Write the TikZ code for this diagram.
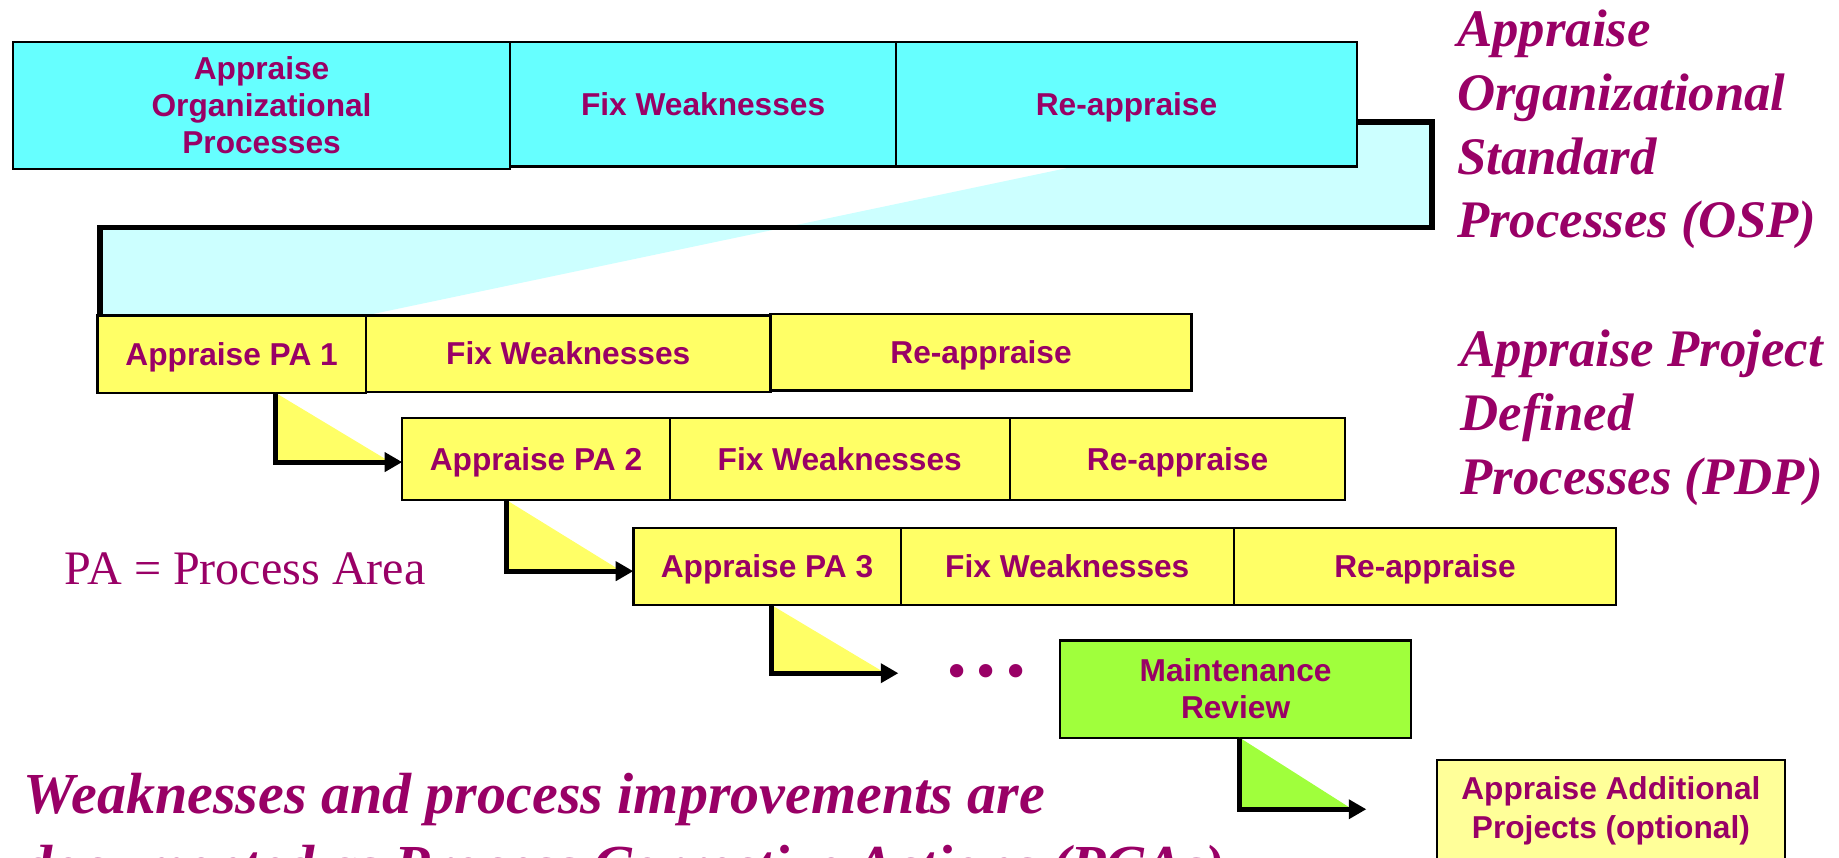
\documentclass[tikz,border=0pt]{standalone}
\usepackage{fontspec}
\setmainfont{Liberation Serif}
\newfontfamily\sansbox{Liberation Sans}
\usetikzlibrary{arrows.meta,calc,backgrounds}
\definecolor{plum}{RGB}{153,0,102}
\definecolor{aqua}{RGB}{102,255,255}
\definecolor{paleaqua}{RGB}{204,255,255}
\definecolor{lemon}{RGB}{255,255,102}
\definecolor{palelemon}{RGB}{255,255,153}
\definecolor{lime}{RGB}{160,255,60}

\begin{document}
\begin{tikzpicture}[x=0.5pt,y=-0.5pt,
  sz/.style 2 args={minimum width=#1*0.5pt, minimum height=#2*0.5pt},
  cell/.style={draw=black, line width=1pt, anchor=north west, inner sep=0pt,
    outer sep=0pt, align=center, text=plum,
    font=\sansbox\bfseries\fontsize{13.5}{15.75}\selectfont},
  oneline/.style={text height=9.7pt, text depth=0pt},
  osp/.style={cell, oneline, fill=aqua},
  pdp/.style={cell, oneline, fill=lemon},
  heading/.style={anchor=north west, inner sep=0pt, align=left, text=plum,
    font=\bfseries\itshape\fontsize{22.5}{27.2}\selectfont},
  note/.style={anchor=north west, inner sep=0pt, text=plum,
    font=\fontsize{20.5}{24}\selectfont},
  flow/.style={line width=2.1pt, draw=black, line join=miter,
    -{Triangle[length=7.5pt,width=8pt]}},
  bracketline/.style={line width=2.5pt, draw=black, line join=miter},
  wedge/.style={fill=#1, draw=none}
]
\useasboundingbox (0,0) rectangle (1568,731);
\clip (0,0) rectangle (1568,731);

% organisational cycle
\node[cell, fill=aqua, sz={424}{108}] (o1) at (11,36) {Appraise\\Organizational\\Processes};
\node[osp, sz={329}{106}] (o2) at (435,36) {Fix Weaknesses};
\node[osp, sz={393}{106}] (o3) at (764,36) {Re-appraise};

% project cycles, one per process area
\node[pdp, sz={229}{66}] (a1) at (83,269) {Appraise PA 1};
\node[pdp, sz={345}{65}] (f1) at (312,269) {Fix Weaknesses};
\node[pdp, sz={359}{65}] (r1) at (657,268) {Re-appraise};
\node[pdp, sz={228}{70}] (a2) at (343,356.5) {Appraise PA 2};
\node[pdp, sz={290}{70}] (f2) at (571,356.5) {Fix Weaknesses};
\node[pdp, sz={286}{70}] (r2) at (861,356.5) {Re-appraise};
\node[pdp, sz={228}{66}] (a3) at (540,450) {Appraise PA 3};
\node[pdp, sz={284}{66}] (f3) at (768,450) {Fix Weaknesses};
\node[pdp, sz={326}{66}] (r3) at (1052,450) {Re-appraise};

\node[cell, fill=lime, sz={299}{83}] (mr) at (904,546) {Maintenance\\Review};
\node[cell, fill=palelemon, sz={297}{87}, font=\sansbox\bfseries\fontsize{13.5}{16.5}\selectfont]
  (ap) at (1225,648) {Appraise Additional\\Projects (optional)};

\node[text=plum, font=\bfseries\fontsize{21}{21}\selectfont] (ell) at (841,576) {• • •};

% expansion of the organisational cycle into the project cycles
\begin{scope}[on background layer]
  \fill[paleaqua] (a1.north west) -- (a1.north east)
    -- ($(o3.south west)+(152,0)$) -- (o3.south east)
    -- (o3.south east |- 0,104) -- (1221,104) -- (1221,194)
    -- (a1.north west |- 0,194) -- cycle;
\end{scope}
\draw[bracketline] (o3.south east |- 0,104) -- (1221,104) -- (1221,194)
  -- (85,194) -- (a1.north west -| 85,0);

% hand-offs between cycles
\coordinate (e3) at (766,574);
\coordinate (e4) at (1165,690);
\fill[wedge=lemon] (a1.south -| 235,0) -- (235,394) -- (333,394) -- cycle;
\fill[wedge=lemon] (a2.south -| 432,0) -- (432,487) -- (530,487) -- cycle;
\fill[wedge=lemon] (a3.south -| 658,0) -- (658,574) -- (755,574) -- cycle;
\fill[wedge=lime] (mr.south -| 1057,0) -- (1057,690) -- (1153,690) -- cycle;
\draw[flow] (a1.south -| 235,0) |- (a2.west |- 0,394);
\draw[flow] (a2.south -| 432,0) |- (a3.west |- 0,487);
\draw[flow] (a3.south -| 658,0) |- (e3);
\draw[flow] (mr.south -| 1057,0) |- (e4);

% captions
\node[heading] (osp) at (1242,8) {Appraise\\Organizational\\Standard\\Processes (OSP)};
\node[heading] (pdp) at (1245,281) {Appraise Project\\Defined\\Processes (PDP)};
\node[note] (pa) at (55,471) {PA = Process Area};
\node[heading, font=\bfseries\itshape\fontsize{24.75}{30.5}\selectfont] (pca) at (20,659)
  {Weaknesses and process improvements are\\documented as Process Corrective Actions (PCAs)};
\end{tikzpicture}
\end{document}
